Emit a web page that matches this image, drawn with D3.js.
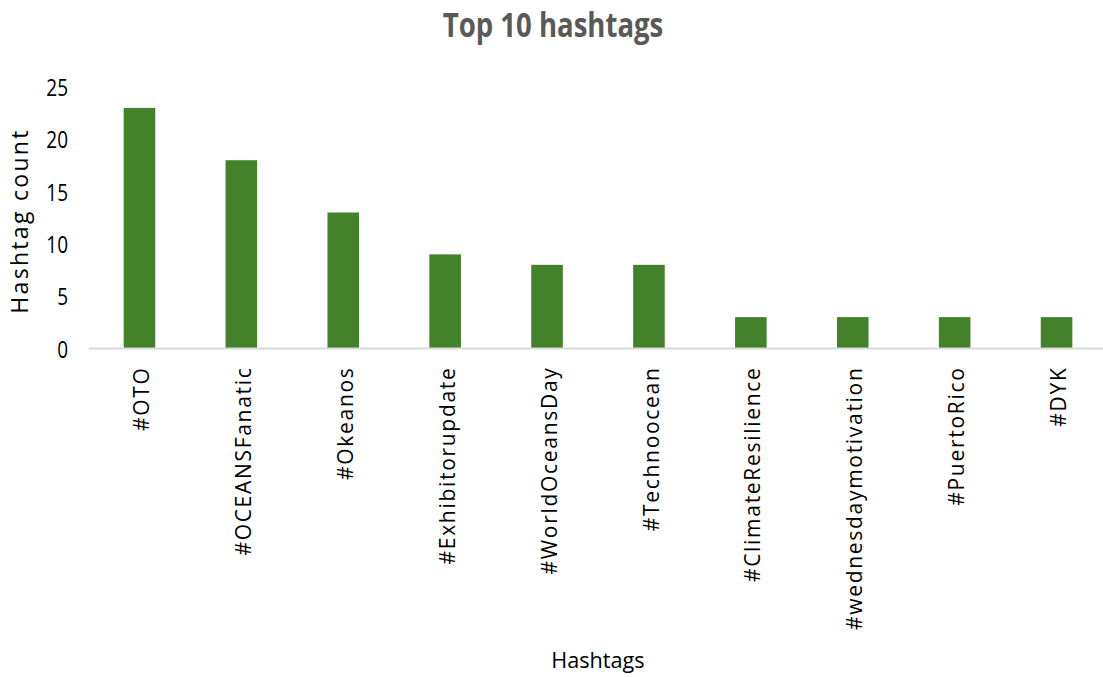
<!DOCTYPE html>
<html>
<head>
<meta charset="utf-8">
<script src="https://cdn.jsdelivr.net/npm/d3@7"></script>
<style>
  html, body { margin: 0; padding: 0; background: #fff; }
  svg { display: block; }
</style>
</head>
<body>
<svg id="chart" width="1103" height="677"></svg>
<script>
// Hashtag frequencies
const hashtags = ["#OTO", "#OCEANSFanatic", "#Okeanos", "#Exhibitorupdate", "#WorldOceansDay",
                  "#Technoocean", "#ClimateResilience", "#wednesdaymotivation", "#PuertoRico", "#DYK"];
const counts = [23, 18, 13, 9, 8, 8, 3, 3, 3, 3];
const yTicks = [0, 5, 10, 15, 20, 25];
const chartTitle = "Top 10 hashtags";
const xTitle = "Hashtags";
const yTitle = "Hashtag  count";

const svg = d3.select("#chart");
const plot = { left: 88.5, right: 1107.5, top: 87, bottom: 348.5 };
const font = "'Open Sans', sans-serif";

const x = d3.scaleBand()
  .domain(hashtags)
  .range([plot.left, plot.right])
  .paddingInner(0.69)
  .paddingOuter(0.345);

const y = d3.scaleLinear()
  .domain([0, 25])
  .range([plot.bottom, plot.top]);

// Bars
svg.append("g")
  .selectAll("rect")
  .data(hashtags.map((h, i) => ({ h, v: counts[i] })))
  .join("rect")
  .attr("x", d => x(d.h))
  .attr("y", d => y(d.v))
  .attr("width", x.bandwidth())
  .attr("height", d => y(0) - y(d.v))
  .attr("fill", "#43822b");

// Category axis with vertical labels
const xAxis = svg.append("g")
  .attr("transform", `translate(0,${y(0)})`)
  .call(d3.axisBottom(x).tickSize(0).tickPadding(0));
xAxis.select(".domain").attr("stroke", "#d9d9d9").attr("stroke-width", 2)
  .attr("d", `M${plot.left},0H1103`);
xAxis.selectAll("text")
  .attr("font-family", font)
  .attr("font-size", 21)
  .attr("letter-spacing", 1.7)
  .attr("fill", "#000")
  .attr("text-anchor", "end")
  .attr("dy", "0.36em")
  .attr("transform", "translate(2,18) rotate(-90)")
  .attr("x", 0)
  .attr("y", 0);

// Value axis (labels only)
const yAxis = svg.append("g")
  .attr("transform", "translate(68,0)")
  .call(d3.axisLeft(y).tickValues(yTicks).tickSize(0).tickPadding(0));
yAxis.select(".domain").remove();
yAxis.selectAll("text")
  .attr("font-family", font)
  .attr("font-size", 20)
  .attr("fill", "#000")
  .attr("dy", "0.35em")
  .attr("transform", "scale(0.95,1.22)");

// Title
svg.append("text")
  .attr("text-anchor", "middle")
  .attr("font-family", font)
  .attr("font-weight", "bold")
  .attr("font-size", 27)
  .attr("fill", "#595959")
  .attr("transform", "translate(553,37) scale(1.02,1.25)")
  .text(chartTitle);

// Axis titles
svg.append("text")
  .attr("transform", "translate(28,221) rotate(-90)")
  .attr("text-anchor", "middle")
  .attr("font-family", font)
  .attr("font-size", 23)
  .attr("letter-spacing", 2.3)
  .attr("fill", "#000")
  .text(yTitle);

svg.append("text")
  .attr("text-anchor", "middle")
  .attr("font-family", font)
  .attr("font-size", 21)
  .attr("fill", "#000")
  .attr("transform", "translate(598,668) scale(1.03,1.05)")
  .text(xTitle);
</script>
</body>
</html>
